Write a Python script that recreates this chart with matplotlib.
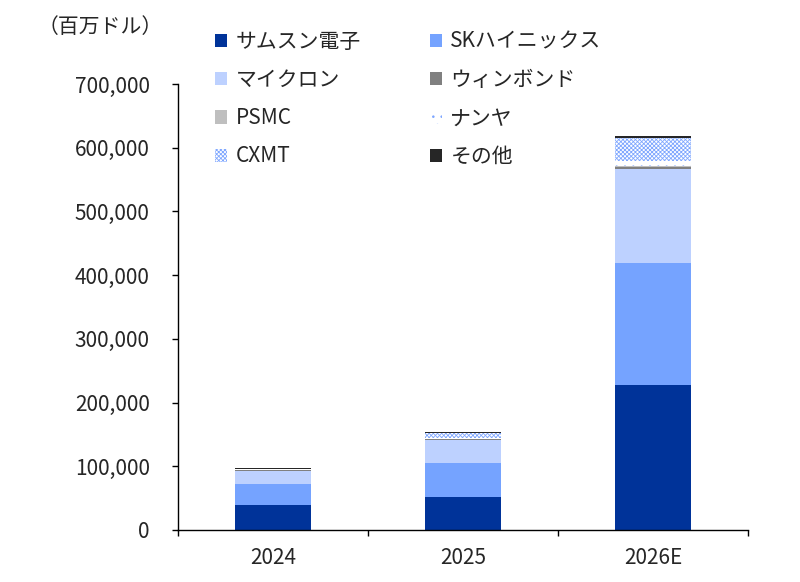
import matplotlib
matplotlib.use("Agg")
import matplotlib.pyplot as plt
from matplotlib.patches import Patch
from matplotlib.ticker import FuncFormatter, FixedLocator
import numpy as np

plt.rcParams['font.family'] = ['Noto Sans CJK JP', 'DejaVu Sans']
plt.rcParams['hatch.linewidth'] = 0.6

categories = ["2024", "2025", "2026E"]
series_names = ["サムスン電子", "SKハイニックス", "マイクロン", "ウィンボンド",
                "PSMC", "ナンヤ", "CXMT", "その他"]
samsung = [39000, 52000, 227700]
sk_hynix = [33000, 53400, 191500]
micron = [20500, 36100, 147600]
winbond = [1500, 800, 3100]
psmc = [500, 400, 1600]
nanya = [1000, 1500, 8400]
cxmt = [0, 8400, 35600]
others = [2000, 1500, 3100]
y_ticks = [0, 100000, 200000, 300000, 400000, 500000, 600000, 700000]
unit_label = "（百万ドル）"

series = [samsung, sk_hynix, micron, winbond, psmc, nanya, cxmt, others]
styles = [
    dict(color="#003399"),
    dict(color="#75A3FF"),
    dict(color="#BDD1FF"),
    dict(color="#808080"),
    dict(color="#BFBFBF"),
    dict(facecolor="white", edgecolor="#7FA7FF", hatch=".."),
    dict(facecolor="white", edgecolor="#7FA7FF", hatch="xxxxxxxx"),
    dict(color="#262626"),
]

fig = plt.figure(figsize=(8, 5.82), dpi=100)
ax = fig.add_axes([178/800, 1-530/582, (748-178)/800, (530-84)/582])

x = np.arange(len(categories))
bottom = np.zeros(len(categories))
handles = []
for name, vals, st in zip(series_names, series, styles):
    v = np.array(vals, dtype=float)
    ax.bar(x, v, 0.4, bottom=bottom, linewidth=0, label=name, **st)
    bottom += v
    handles.append(Patch(linewidth=0, **st))

ax.set_xlim(-0.5, len(categories) - 0.5)
ax.set_ylim(0, 700000)
ax.set_yticks(y_ticks)
ax.yaxis.set_major_formatter(FuncFormatter(lambda v, p: f"{int(v):,}"))
ax.set_xticks(x)
ax.set_xticklabels(categories)
ax.xaxis.set_minor_locator(FixedLocator(np.arange(-0.5, len(categories), 1.0)))
ax.tick_params(axis='x', which='major', length=0, labelsize=15, pad=12, colors='#262626')
ax.tick_params(axis='x', which='minor', length=4.3, width=1, direction='out', color='black')
ax.tick_params(axis='y', length=4.3, width=1, direction='out', labelsize=15, pad=16,
               colors='black', labelcolor='#262626')
for s in ['top', 'right']:
    ax.spines[s].set_visible(False)
ax.spines['left'].set_linewidth(1)
ax.spines['bottom'].set_linewidth(1)

fig.text(38/800, 1-27/582, unit_label, fontsize=15, va='center', ha='left', color='#262626')

order = [0, 2, 4, 6, 1, 3, 5, 7]
leg = fig.legend([handles[i] for i in order], [series_names[i] for i in order],
                 ncol=2, loc='upper left', bbox_to_anchor=(196/800, 1-12/582),
                 frameon=False, fontsize=15, handlelength=0.6, handleheight=0.6,
                 handletextpad=0.4, labelspacing=0.78, columnspacing=3.3)
for t in leg.get_texts():
    t.set_color('#262626')

fig.savefig("out.png", dpi=100)
